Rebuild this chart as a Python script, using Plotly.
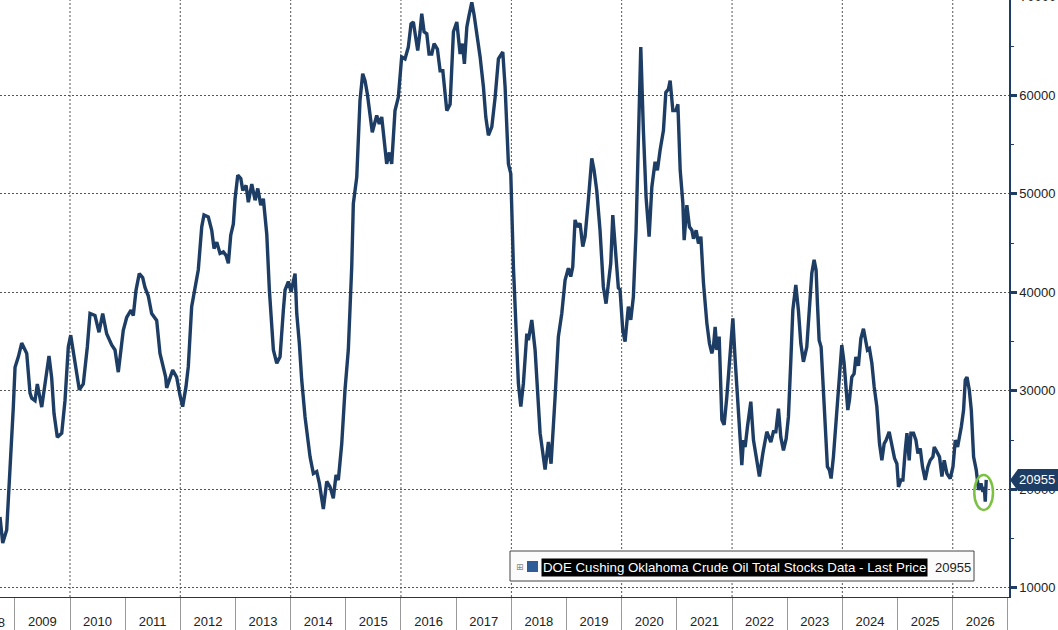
from datetime import datetime
import plotly.graph_objects as go

# Cushing, Oklahoma crude oil stocks (thousand barrels)
DEC_YEARS = [
    2008.731, 2008.780, 2008.852, 2008.881, 2008.930, 2008.972, 2009.003, 2009.063, 2009.124, 2009.184,
    2009.215, 2009.275, 2009.306, 2009.365, 2009.407, 2009.487, 2009.547, 2009.619, 2009.668, 2009.710,
    2009.770, 2009.850, 2009.909, 2009.969, 2010.013, 2010.073, 2010.169, 2010.241, 2010.314, 2010.363,
    2010.453, 2010.526, 2010.593, 2010.665, 2010.756, 2010.816, 2010.876, 2010.966, 2011.028, 2011.106,
    2011.148, 2011.197, 2011.256, 2011.318, 2011.360, 2011.419, 2011.481, 2011.572, 2011.632, 2011.735,
    2011.753, 2011.862, 2011.934, 2011.994, 2012.043, 2012.103, 2012.145, 2012.206, 2012.266, 2012.326,
    2012.388, 2012.429, 2012.507, 2012.569, 2012.611, 2012.660, 2012.719, 2012.779, 2012.828, 2012.870,
    2012.913, 2012.960, 2012.991, 2013.040, 2013.095, 2013.131, 2013.191, 2013.232, 2013.294, 2013.354,
    2013.403, 2013.457, 2013.504, 2013.566, 2013.613, 2013.657, 2013.686, 2013.747, 2013.807, 2013.867,
    2013.898, 2013.958, 2014.007, 2014.079, 2014.110, 2014.157, 2014.200, 2014.260, 2014.351, 2014.411,
    2014.472, 2014.520, 2014.592, 2014.654, 2014.714, 2014.773, 2014.822, 2014.864, 2014.926, 2014.985,
    2015.045, 2015.107, 2015.136, 2015.198, 2015.257, 2015.306, 2015.348, 2015.390, 2015.439, 2015.480,
    2015.560, 2015.607, 2015.651, 2015.698, 2015.741, 2015.789, 2015.832, 2015.892, 2015.952, 2016.013,
    2016.073, 2016.133, 2016.182, 2016.224, 2016.254, 2016.303, 2016.345, 2016.376, 2016.418, 2016.467,
    2016.508, 2016.557, 2016.599, 2016.659, 2016.708, 2016.757, 2016.829, 2016.889, 2016.949, 2017.010,
    2017.070, 2017.112, 2017.148, 2017.192, 2017.233, 2017.282, 2017.324, 2017.373, 2017.433, 2017.493,
    2017.536, 2017.583, 2017.645, 2017.705, 2017.765, 2017.844, 2017.886, 2017.946, 2017.989, 2018.037,
    2018.086, 2018.127, 2018.171, 2018.218, 2018.280, 2018.309, 2018.370, 2018.430, 2018.521, 2018.611,
    2018.671, 2018.720, 2018.793, 2018.852, 2018.914, 2018.974, 2019.034, 2019.077, 2019.113, 2019.155,
    2019.197, 2019.246, 2019.295, 2019.336, 2019.396, 2019.458, 2019.500, 2019.548, 2019.608, 2019.668,
    2019.717, 2019.759, 2019.802, 2019.839, 2019.880, 2019.940, 2019.971, 2020.020, 2020.062, 2020.121,
    2020.165, 2020.212, 2020.261, 2020.303, 2020.346, 2020.393, 2020.442, 2020.497, 2020.546, 2020.605,
    2020.647, 2020.696, 2020.756, 2020.799, 2020.847, 2020.877, 2020.926, 2020.981, 2021.017, 2021.059,
    2021.108, 2021.131, 2021.180, 2021.227, 2021.271, 2021.300, 2021.349, 2021.390, 2021.434, 2021.481,
    2021.543, 2021.590, 2021.633, 2021.662, 2021.693, 2021.724, 2021.766, 2021.815, 2021.856, 2021.905,
    2021.965, 2022.014, 2022.056, 2022.115, 2022.177, 2022.206, 2022.237, 2022.279, 2022.340, 2022.388,
    2022.437, 2022.496, 2022.558, 2022.630, 2022.703, 2022.750, 2022.794, 2022.841, 2022.884, 2022.932,
    2022.981, 2023.022, 2023.066, 2023.102, 2023.156, 2023.203, 2023.247, 2023.294, 2023.355, 2023.403,
    2023.446, 2023.488, 2023.524, 2023.548, 2023.579, 2023.615, 2023.669, 2023.729, 2023.765, 2023.796,
    2023.838, 2023.899, 2023.947, 2023.990, 2024.032, 2024.068, 2024.099, 2024.128, 2024.171, 2024.213,
    2024.244, 2024.291, 2024.335, 2024.382, 2024.413, 2024.454, 2024.490, 2024.534, 2024.576, 2024.624,
    2024.672, 2024.715, 2024.757, 2024.793, 2024.847, 2024.896, 2024.944, 2024.987, 2025.016, 2025.060,
    2025.096, 2025.138, 2025.169, 2025.210, 2025.241, 2025.288, 2025.332, 2025.368, 2025.410, 2025.451,
    2025.500, 2025.549, 2025.591, 2025.640, 2025.664, 2025.712, 2025.759, 2025.803, 2025.845, 2025.894,
    2025.954, 2026.004, 2026.046, 2026.088, 2026.124, 2026.155, 2026.196, 2026.227, 2026.258, 2026.300,
    2026.336, 2026.378, 2026.426, 2026.468, 2026.511, 2026.547, 2026.571, 2026.589, 2026.607,
]

STOCKS = [
    17200, 14550, 15870, 18600, 23000, 28350, 32400, 33450, 34850, 34150,
    33800, 29770, 29250, 29000, 30700, 28350, 30700, 33550, 31300, 27700,
    25300, 25700, 29000, 34450, 35650, 33450, 30100, 30700, 34450, 37850,
    37650, 35950, 37850, 35800, 34650, 34150, 31900, 36150, 37450, 38200,
    37650, 40200, 41900, 41500, 40500, 39650, 37850, 37150, 33800, 31400,
    30300, 32100, 31400, 29550, 28400, 30400, 32450, 38550, 40250, 42300,
    46650, 47850, 47650, 46300, 44450, 45100, 43950, 44100, 43750, 42950,
    45800, 46950, 49500, 51900, 51550, 50350, 50850, 49150, 51000, 49350,
    50550, 48850, 49500, 45900, 40250, 36850, 34150, 32800, 33450, 38200,
    40250, 41100, 40050, 41900, 37850, 34800, 31100, 27350, 23300, 21600,
    21800, 20600, 18000, 20800, 20250, 19100, 21450, 20950, 24650, 30100,
    34150, 42600, 49000, 51700, 59500, 62200, 61500, 60150, 58100, 56250,
    57950, 57100, 57800, 55400, 53050, 54200, 53050, 58450, 59800, 63900,
    63700, 64900, 67250, 67450, 66250, 64550, 66450, 68300, 66450, 66250,
    64200, 64200, 65250, 64700, 62500, 62500, 58450, 59100, 66450, 67450,
    64200, 65250, 63200, 66950, 68150, 69450, 68150, 66450, 63900, 60850,
    57800, 55950, 56800, 59800, 63700, 64400, 60850, 53050, 52050, 42600,
    36850, 30750, 28400, 30750, 35800, 35150, 37200, 34150, 25700, 22000,
    24800, 22600, 29400, 35500, 37850, 41250, 42450, 41600, 42600, 47350,
    46650, 47000, 44650, 45650, 49350, 53600, 52400, 50350, 46300, 40550,
    38850, 41100, 42950, 47850, 44650, 40450, 40250, 36150, 35000, 38550,
    37200, 39550, 46300, 56450, 64900, 56450, 49650, 45650, 50700, 53250,
    52400, 54450, 56450, 60300, 60650, 61500, 58450, 58450, 59100, 52400,
    49000, 45300, 48850, 46650, 46300, 45450, 46300, 44950, 45650, 40950,
    36850, 34800, 33800, 34450, 36500, 34150, 35500, 27050, 26550, 29400,
    33800, 37350, 33150, 27350, 22450, 25000, 24300, 26350, 28900, 25000,
    23300, 21300, 23650, 25850, 24800, 25850, 25850, 28200, 25300, 23950,
    25150, 27350, 33150, 38200, 40750, 38200, 34800, 32950, 34450, 38200,
    41950, 43300, 42250, 38900, 35150, 34450, 29050, 22300, 21950, 21100,
    23300, 27700, 32100, 34650, 32800, 29750, 28050, 29050, 31400, 31750,
    33450, 32550, 35300, 36300, 35150, 34150, 34300, 32800, 30400, 28400,
    24650, 22950, 24650, 25000, 25850, 24300, 23150, 22600, 20250, 20950,
    20950, 23950, 25700, 22950, 25700, 25700, 25000, 23650, 24150, 22300,
    20950, 22300, 22950, 23300, 24300, 23800, 23300, 21300, 22950, 21600,
    21100, 22300, 25000, 24300, 25350, 26350, 28050, 31100, 31400, 30100,
    28050, 23300, 21950, 19950, 20600, 19750, 20250, 18750, 20955,
]

YEARS = list(range(2009, 2027))
LAST_PRICE = 20955
SERIES_NAME = 'DOE Cushing Oklahoma Crude Oil Total Stocks Data - Last Price'

NAVY = '#1d3d64'
GRID = '#555555'
FONT = 'Liberation Sans'

X_START, X_END = 2008.731, 2027.02
Y_MIN, Y_MAX = 9070, 69680


def to_date(t):
    """decimal year -> datetime"""
    y = int(t)
    start = datetime(y, 1, 1)
    return start + (datetime(y + 1, 1, 1) - start) * (t - y)


dates = [to_date(t) for t in DEC_YEARS]

fig = go.Figure()
fig.add_trace(go.Scatter(
    x=dates, y=STOCKS, mode='lines', name=SERIES_NAME,
    line=dict(color=NAVY, width=3.4), showlegend=False,
))

# dotted vertical grid every two years
for y in range(2010, 2027, 2):
    fig.add_vline(x=datetime(y, 1, 1), line=dict(color=GRID, width=1, dash='2px,2px'), layer='below')

# green ring around the latest readings
fig.add_shape(type='circle', xref='x', yref='y',
              x0=to_date(2026.39), x1=to_date(2026.73), y0=17900, y1=21450,
              line=dict(color='#7cc242', width=2.5))

# last price tag on the right axis
fig.add_shape(type='path', xref='paper', yref='y', xsizemode='pixel', ysizemode='pixel',
              xanchor=1, yanchor=LAST_PRICE,
              path='M1,0 L9,11 L49,11 L49,-11 L9,-11 Z',
              fillcolor=NAVY, line=dict(width=0), layer='above')
fig.add_annotation(xref='paper', yref='y', x=1, y=LAST_PRICE, xanchor='left', xshift=8,
                   yanchor='middle', text=str(LAST_PRICE), showarrow=False,
                   font=dict(family=FONT, size=13, color='white'))

# legend box at the bottom
LEG_Y = 30 / 597
fig.add_shape(type='rect', xref='paper', yref='paper',
              x0=510 / 1009, x1=974 / 1009, y0=16 / 597, y1=46 / 597,
              fillcolor='#fbfbfb', line=dict(color='#444', width=1), layer='above')
fig.add_shape(type='rect', xref='paper', yref='paper',
              x0=527 / 1009, x1=538 / 1009, y0=25 / 597, y1=36 / 597,
              fillcolor='#2e5c99', line=dict(width=0), layer='above')
fig.add_annotation(xref='paper', yref='paper', x=520 / 1009, y=LEG_Y, xanchor='center', yanchor='middle',
                   text='⊞', showarrow=False, font=dict(family='DejaVu Sans', size=9, color='#888'))
fig.add_annotation(xref='paper', yref='paper', x=541 / 1009, y=LEG_Y, xanchor='left', yanchor='middle',
                   text=SERIES_NAME, showarrow=False, bgcolor='black', borderpad=1,
                   font=dict(family=FONT, size=13.3, color='white'))
fig.add_annotation(xref='paper', yref='paper', x=973 / 1009, y=LEG_Y, xanchor='right', yanchor='middle',
                   text=str(LAST_PRICE), showarrow=False,
                   font=dict(family=FONT, size=13, color='#222'))

# cut-off labels at the edges
fig.add_annotation(xref='paper', yref='paper', x=1, xanchor='left', xshift=9,
                   y=(70000 - Y_MIN) / (Y_MAX - Y_MIN), yanchor='middle',
                   text='70000', showarrow=False, font=dict(family=FONT, size=13, color='#222'))
fig.add_annotation(xref='paper', yref='paper', x=-10 / 1009, y=-25 / 597,
                   xanchor='center', yanchor='middle',
                   text='2008', showarrow=False, font=dict(family=FONT, size=13, color='#222'))

fig.update_layout(
    width=1058, height=630,
    margin=dict(l=0, r=49, t=0, b=33),
    plot_bgcolor='white', paper_bgcolor='white',
    font=dict(family=FONT, size=13, color='#222'),
    xaxis=dict(
        type='date', range=[to_date(X_START), to_date(X_END)],
        tickmode='array', tickvals=[datetime(y, 7, 2) for y in YEARS],
        ticktext=[str(y) for y in YEARS],
        ticks='', showgrid=False, zeroline=False,
        showline=True, linecolor='#333', linewidth=1,
        ticklabelstandoff=12,
        minor=dict(tickmode='array', tickvals=[datetime(y, 1, 1) for y in YEARS + [2027]],
                   ticks='outside', ticklen=33, tickcolor='#999', tickwidth=1, showgrid=False),
    ),
    yaxis=dict(
        side='right', range=[Y_MIN, Y_MAX], tick0=0, dtick=10000, tickformat='d',
        showgrid=True, gridcolor=GRID, gridwidth=1, griddash='2px,2px', zeroline=False,
        showline=True, linecolor=NAVY, linewidth=1.5,
        ticks='outside', ticklen=6, tickwidth=3, tickcolor=NAVY,
        minor=dict(tick0=5000, dtick=5000, ticks='outside', ticklen=3, tickwidth=1,
                   tickcolor=NAVY, showgrid=False),
    ),
)

# drop the browser's default body margin so the figure sits at the page corner
fig.write_html('out.html', config={'displayModeBar': False},
               post_script="document.body.style.margin='0';")
